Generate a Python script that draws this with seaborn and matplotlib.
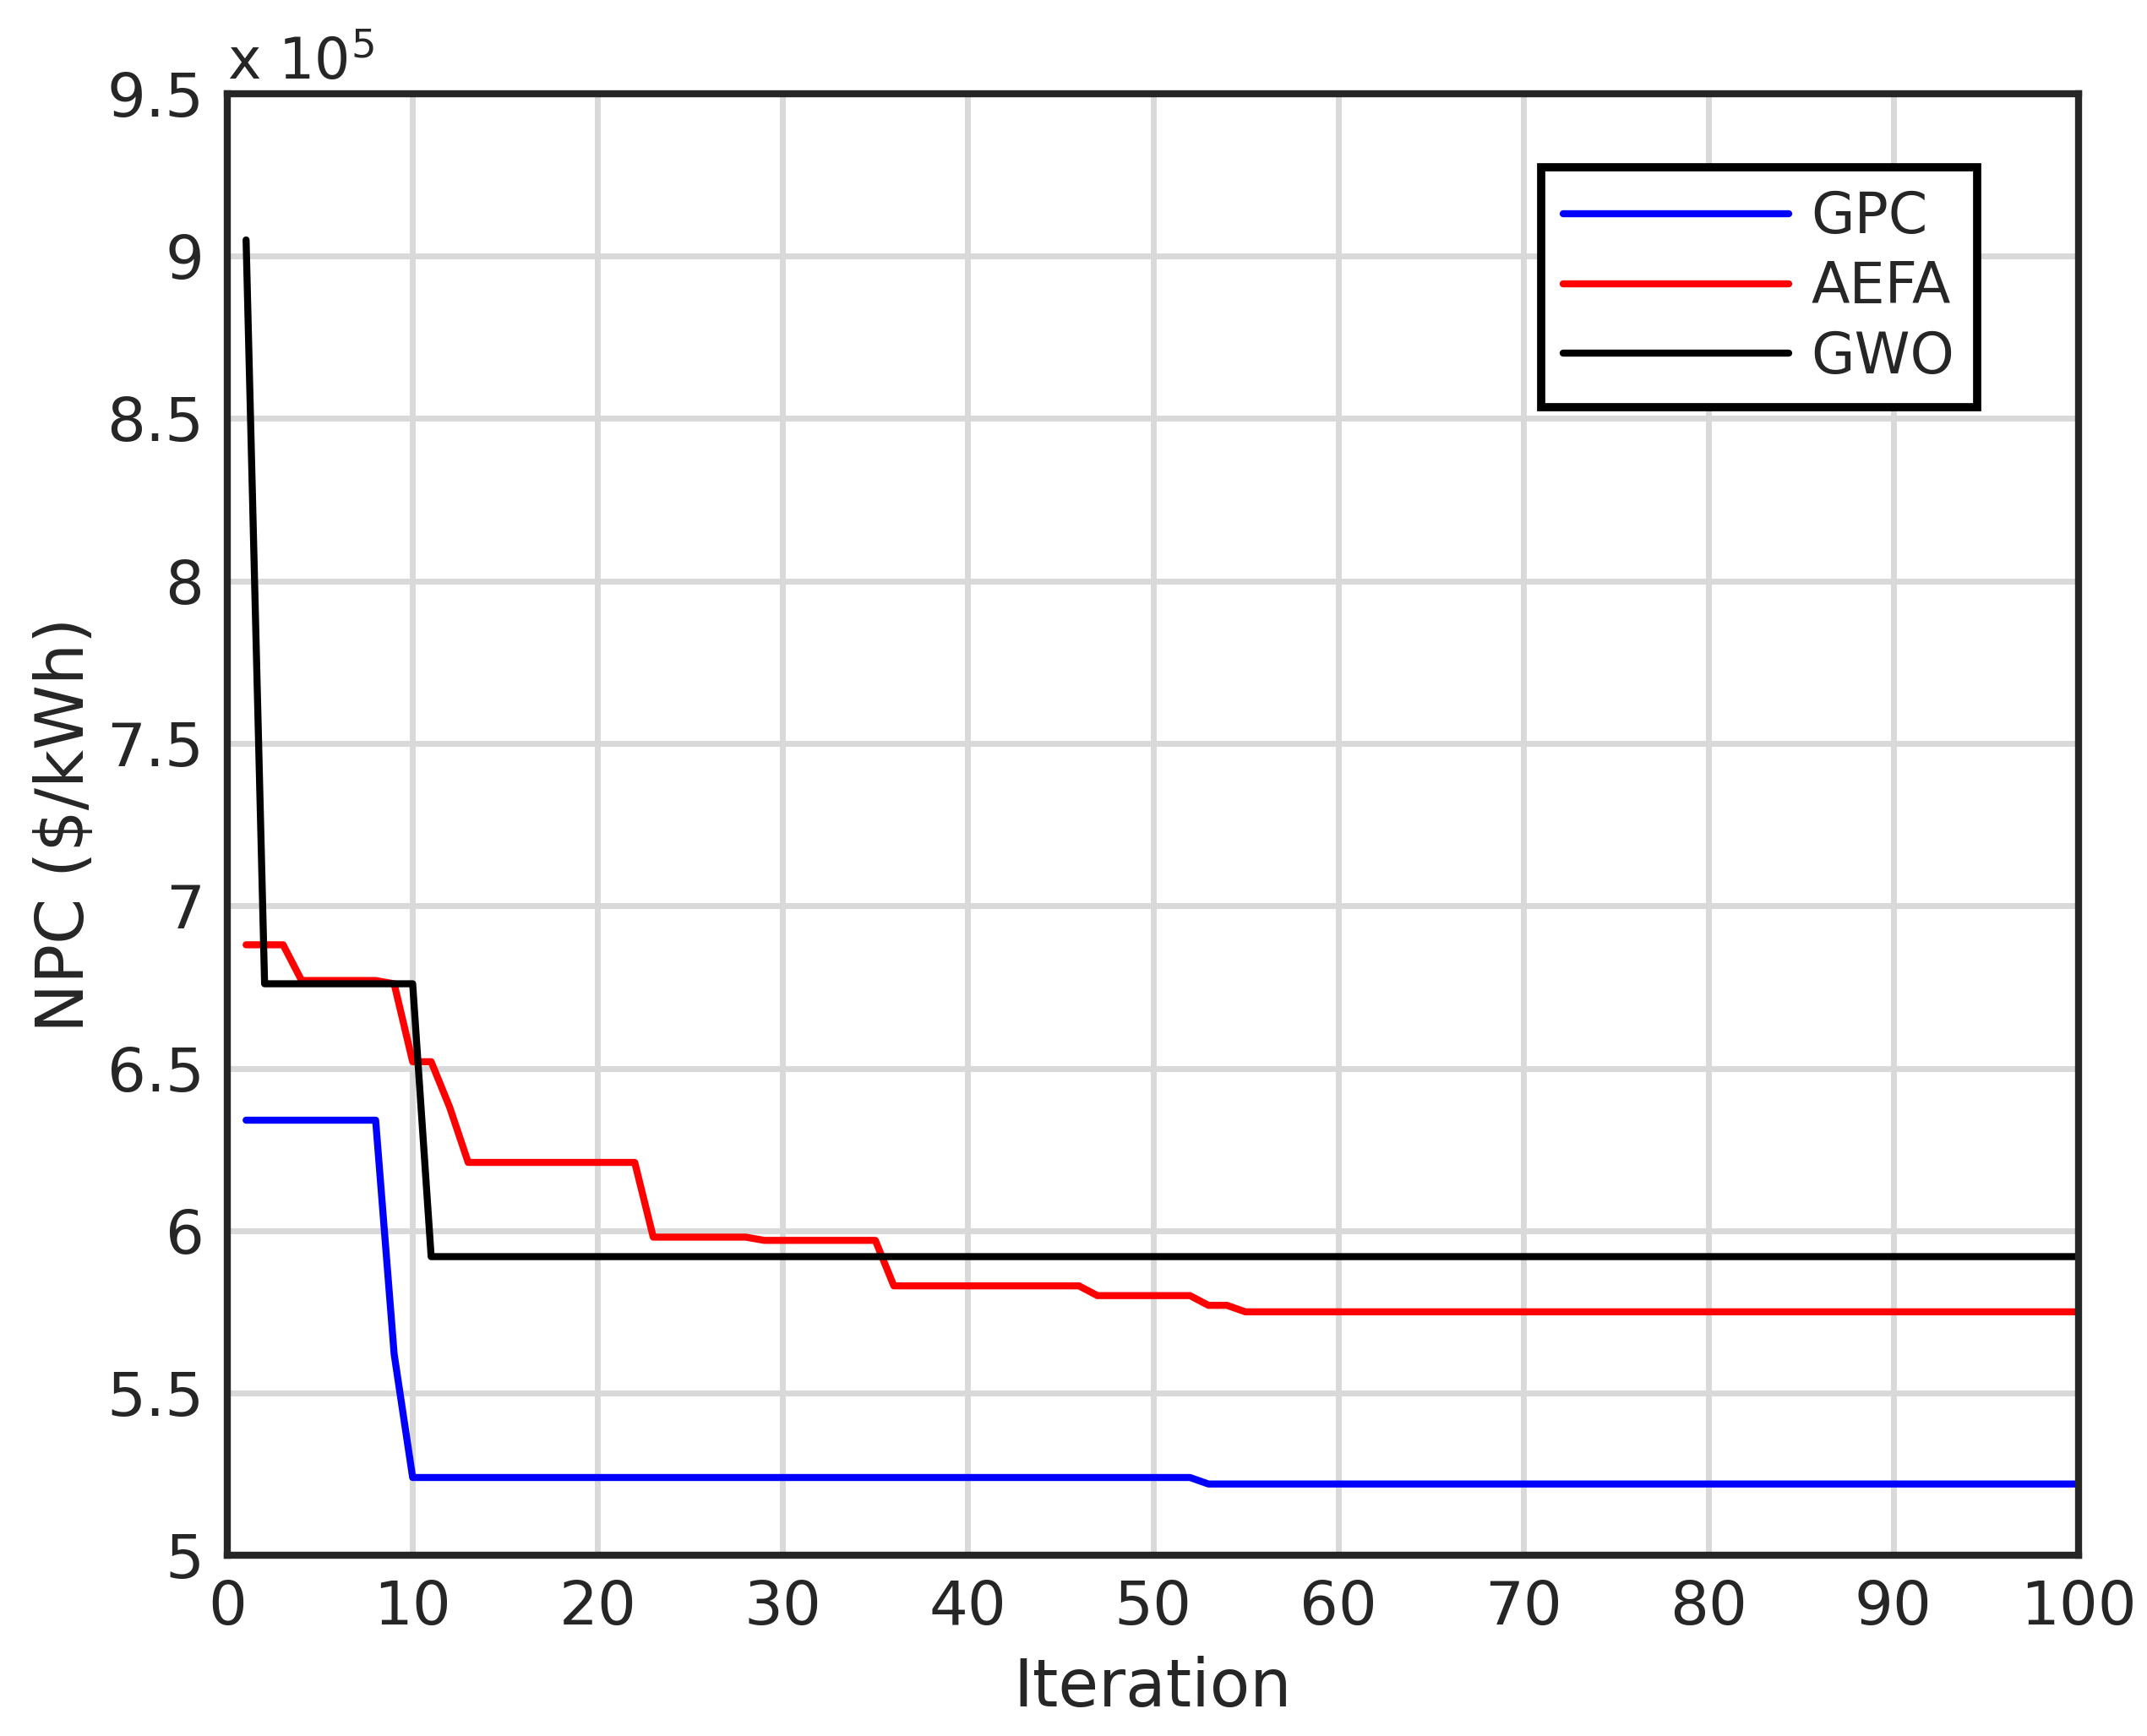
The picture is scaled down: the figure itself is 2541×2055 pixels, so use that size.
import numpy as np
import pandas as pd
import matplotlib
matplotlib.use("Agg")
import matplotlib.pyplot as plt
import seaborn as sns

# values in units of 1e5 $
iterations = list(range(1, 101))
gpc = [6.34] * 8 + [5.62] + [5.24] * 43 + [5.22] * 48
aefa = ([6.88] * 3 + [6.77] * 5 + [6.76] + [6.52] * 2 + [6.38] + [6.21] * 10
        + [5.98] * 6 + [5.97] * 7 + [5.83] * 11 + [5.80] * 6 + [5.77] * 2 + [5.75] * 46)
gwo = [9.05] + [6.76] * 9 + [5.92] * 90

df = pd.DataFrame({"Iteration": iterations * 3,
                   "NPC": gpc + aefa + gwo,
                   "Algorithm": ["GPC"] * 100 + ["AEFA"] * 100 + ["GWO"] * 100})

sns.set_style("white")
plt.rcParams['font.family'] = ['DejaVu Sans']

fig = plt.figure(figsize=(12.705, 10.275), dpi=200)
ax = fig.add_axes([0.106, 0.104, 0.862, 0.842])
sns.lineplot(data=df, x="Iteration", y="NPC", hue="Algorithm",
             palette={"GPC": "#0000ff", "AEFA": "#ff0000", "GWO": "#000000"},
             linewidth=3, ax=ax)

ax.set_xlim(0, 100)
ax.set_ylim(5, 9.5)
ax.set_xticks(range(0, 101, 10))
ax.set_yticks(np.arange(5, 9.51, 0.5))
ax.set_yticklabels(["5", "5.5", "6", "6.5", "7", "7.5", "8", "8.5", "9", "9.5"])
ax.grid(True, color="#d9d9d9", linewidth=2.5)
ax.set_axisbelow(True)
for s in ax.spines.values():
    s.set_linewidth(3)
    s.set_color("#262626")
ax.tick_params(labelsize=26, colors="#262626", length=0, pad=10)
ax.set_xlabel("Iteration", fontsize=28, color="#262626", labelpad=8)
ax.set_ylabel("NPC ($/kWh)", fontsize=28, color="#262626")
ax.text(0.0, 1.01, r"x 10$^5$", transform=ax.transAxes, fontsize=24, color="#262626")

leg = ax.legend(loc="upper right", fontsize=24, frameon=True, fancybox=False,
                edgecolor="#000000", handlelength=4, handletextpad=0.4,
                labelspacing=0.25, borderaxespad=1.3, bbox_to_anchor=(0.985, 1.0))
leg.get_frame().set_linewidth(3.5)
leg.get_frame().set_alpha(1)
leg.set_title(None)

fig.savefig("out.png", dpi=200)
